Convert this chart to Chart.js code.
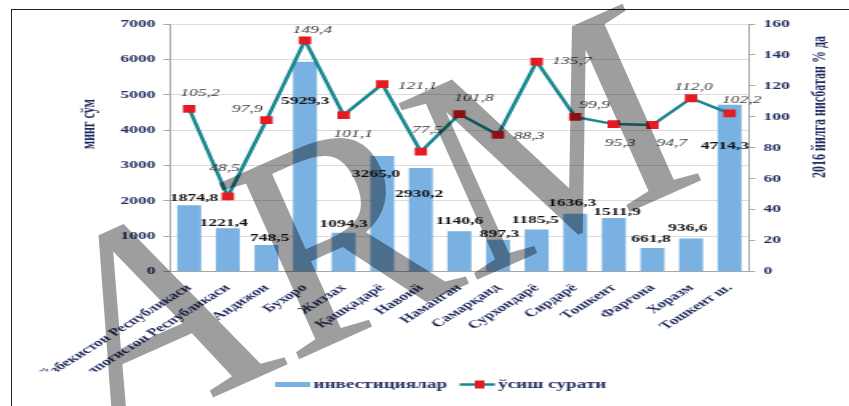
<!DOCTYPE html>
<html>
<head>
<meta charset="utf-8">
<script src="https://cdn.jsdelivr.net/npm/chart.js@4.4.1/dist/chart.umd.min.js"></script>
<style>
html, body { margin: 0; padding: 0; background: #fff; }
#wrap { position: relative; width: 849px; height: 406px; overflow: hidden; }
#chart { position: absolute; left: 0; top: 0; }
#mark { position: absolute; left: 0; top: 0; pointer-events: none; }
#frame { position: absolute; left: 11px; top: 9px; right: -5px; bottom: -5px; border-top: 1px solid #222; border-left: 1px solid #222; }
</style>
</head>
<body>
<div id="wrap">
  <canvas id="chart" width="531" height="406" style="width:849px;height:406px"></canvas>
  <div id="frame"></div>
  <canvas id="mark" width="849" height="406"></canvas>
</div>
<script>
// data
const regions = ['Ўзбекистон Республикаси', 'Қорақалпоғистон Республикаси', 'Андижон', 'Бухоро', 'Жиззах',
  'Қашқадарё', 'Навоий', 'Наманган', 'Самарқанд', 'Сурхондарё', 'Сирдарё', 'Тошкент', 'Фарғона', 'Хоразм', 'Тошкент ш.'];
const investments = [1874.8, 1221.4, 748.5, 5929.3, 1094.3, 3265.0, 2930.2, 1140.6, 897.3, 1185.5, 1636.3, 1511.9, 661.8, 936.6, 4714.3];
const growth = [105.2, 48.5, 97.9, 149.4, 101.1, 121.1, 77.5, 101.8, 88.3, 135.7, 99.9, 95.3, 94.7, 112.0, 102.2];
const leftTicks = [0, 1000, 2000, 3000, 4000, 5000, 6000, 7000];
const rightTicks = [0, 20, 40, 60, 80, 100, 120, 140, 160];
const seriesNames = ['инвестициялар', 'ўсиш сурати'];
const leftTitle = 'минг сўм';
const rightTitle = '2016 йилга нисбатан % да';

// label nudges (canvas px, before the horizontal stretch)
const barShiftX = [3, -2.5, 2, 0, 0, -4, -1, 0, 1, -1, -2, 2, -1, -2, -3];
const barShiftY = [-7, -5, -7, 39, -9, 18, 26, -10, -6, -9.5, -10, -6, -9, -10, 41];
const lineShiftX = [6.7, -2, -12, 4.5, 6, 22, 4, 9, 19.5, 22, 12, 4, 12, 1.5, 7.5];
const lineShiftY = [-16, -28.5, -11, -10.5, 18.5, 2, -22, -15.5, 1, 0, -12, 19.5, 18.5, -11, -13.5];

const navy = '#1f2b5e';
const barBlue = '#79b2e2';
const teal = '#16868f';
const red = '#e31b23';
const serif = '"Liberation Serif", "Times New Roman", serif';

const fmt = v => v.toFixed(1).replace('.', ',');

const valueLabels = {
  id: 'valueLabels',
  afterDatasetsDraw(chart) {
    const ctx = chart.ctx;
    ctx.save();
    ctx.textAlign = 'center';
    ctx.textBaseline = 'middle';
    chart.getDatasetMeta(1).data.forEach((el, i) => {
      ctx.font = 'bold 11px ' + serif;
      ctx.fillStyle = '#111';
      ctx.fillText(fmt(investments[i]), el.x + barShiftX[i], el.y + barShiftY[i]);
    });
    chart.getDatasetMeta(0).data.forEach((el, i) => {
      ctx.font = 'italic 11px ' + serif;
      ctx.fillStyle = '#3a3a3a';
      ctx.fillText(fmt(growth[i]), el.x + lineShiftX[i], el.y + lineShiftY[i]);
    });
    ctx.restore();
  }
};

const extras = {
  id: 'extras',
  afterDraw(chart) {
    const ctx = chart.ctx;
    ctx.save();
    ctx.fillStyle = navy;
    ctx.font = 'bold 12px ' + serif;
    ctx.textAlign = 'center';
    ctx.textBaseline = 'middle';
    ctx.translate(56, 124);
    ctx.rotate(-Math.PI / 2);
    ctx.fillText(leftTitle, 0, 0);
    ctx.restore();

    ctx.save();
    ctx.fillStyle = navy;
    ctx.font = 'bold 12px ' + serif;
    ctx.textAlign = 'center';
    ctx.textBaseline = 'middle';
    ctx.translate(512.5, 107);
    ctx.rotate(-Math.PI / 2);
    ctx.fillText(rightTitle, 0, 0);
    ctx.restore();

    // legend
    ctx.save();
    const ly = 384.5;
    ctx.fillStyle = barBlue;
    ctx.fillRect(172, ly - 2.5, 22, 5);
    ctx.fillStyle = navy;
    ctx.font = 'bold 12px ' + serif;
    ctx.textBaseline = 'middle';
    ctx.fillText(seriesNames[0], 196, ly);
    ctx.strokeStyle = teal;
    ctx.lineWidth = 2.5;
    ctx.beginPath();
    ctx.moveTo(287.5, ly);
    ctx.lineTo(309.5, ly);
    ctx.stroke();
    ctx.fillStyle = red;
    ctx.fillRect(300 - 3, ly - 4, 6, 8);
    ctx.fillStyle = navy;
    ctx.fillText(seriesNames[1], 311.5, ly);
    ctx.restore();
  }
};

const tickFont = { family: serif, size: 11, weight: 'bold' };

new Chart(document.getElementById('chart'), {
  type: 'bar',
  data: {
    labels: regions,
    datasets: [
      {
        type: 'line',
        label: seriesNames[1],
        data: growth,
        yAxisID: 'y1',
        borderColor: teal,
        borderWidth: 2.5,
        pointStyle: 'rect',
        pointRadius: 5.5,
        pointBackgroundColor: red,
        pointBorderColor: red,
        pointBorderWidth: 0,
        tension: 0,
        order: 0
      },
      {
        type: 'bar',
        label: seriesNames[0],
        data: investments,
        yAxisID: 'y',
        backgroundColor: barBlue,
        barPercentage: 0.62,
        categoryPercentage: 1,
        order: 1
      }
    ]
  },
  options: {
    responsive: false,
    animation: false,
    devicePixelRatio: 1,
    layout: { padding: { left: 0, right: 0, top: 24, bottom: 34.5 } },
    plugins: { legend: { display: false }, tooltip: { enabled: false } },
    scales: {
      x: {
        grid: { display: false },
        border: { display: true, color: '#a6a6a6' },
        ticks: { autoSkip: false, maxRotation: 45, minRotation: 45, font: tickFont, color: navy, padding: 2 },
        afterFit: s => { s.height = 100; }
      },
      y: {
        position: 'left',
        min: 0,
        max: 7000,
        afterBuildTicks: s => { s.ticks = leftTicks.map(v => ({ value: v })); },
        grid: { color: '#dcdcdc', tickLength: 4, tickColor: '#a6a6a6' },
        border: { color: '#a6a6a6' },
        ticks: { font: tickFont, color: navy, padding: 5, callback: v => String(v) },
        afterFit: s => { s.width = 106.25; }
      },
      y1: {
        position: 'right',
        min: 0,
        max: 160,
        afterBuildTicks: s => { s.ticks = rightTicks.map(v => ({ value: v })); },
        grid: { drawOnChartArea: false, tickLength: 4, color: '#a6a6a6' },
        border: { color: '#a6a6a6' },
        ticks: { font: tickFont, color: navy, padding: 5, callback: v => String(v) },
        afterFit: s => { s.width = 62.6; }
      }
    }
  },
  plugins: [valueLabels, extras]
});

// watermark over the picture
const mctx = document.getElementById('mark').getContext('2d');
mctx.save();
mctx.translate(95, 450);
mctx.rotate(-24 * Math.PI / 180);
mctx.font = '295px ' + serif;
mctx.fillStyle = 'rgba(0,0,0,0.38)';
mctx.fillText('ARM', 0, 0);
mctx.restore();
</script>
</body>
</html>
